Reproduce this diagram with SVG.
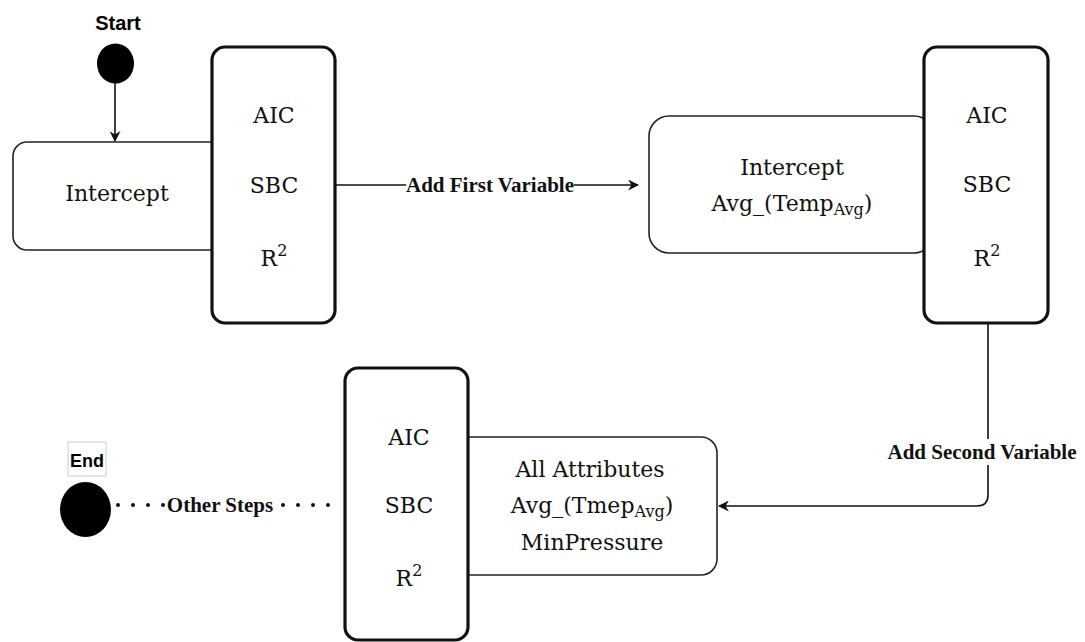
<svg xmlns="http://www.w3.org/2000/svg" width="1085" height="642" viewBox="0 0 1085 642">
  <style>
    .state { fill: #fff; stroke: #222; stroke-width: 1.6; }
    .metric { fill: #fff; stroke: #111; stroke-width: 3.2; }
    .txt { font-family: "DejaVu Serif", "Liberation Serif", serif; font-size: 22px; fill: #111; text-anchor: middle; dominant-baseline: central; }
    .lbl { font-family: "Liberation Serif", "Times New Roman", "DejaVu Serif", serif; font-size: 21px; font-weight: bold; fill: #111; text-anchor: middle; dominant-baseline: central; }
    .term { font-family: "Liberation Sans", Arial, sans-serif; font-weight: bold; fill: #000; text-anchor: middle; dominant-baseline: central; }
    .edge { fill: none; stroke: #111; stroke-width: 1.6; }
    .dots { fill: none; stroke: #111; stroke-width: 4; stroke-linecap: round; stroke-dasharray: 0 15; }
  </style>
  <defs>
    <marker id="arrow" viewBox="0 0 10 10" refX="9" refY="5" markerWidth="11" markerHeight="11" markerUnits="userSpaceOnUse" orient="auto">
      <path d="M0,0 L10,5 L0,10 L3,5 z" fill="#111"/>
    </marker>
  </defs>
  <rect width="1085" height="642" fill="#fff"/>

  <!-- connectors -->
  <g id="connectors">
    <line class="edge" x1="115" y1="83" x2="115" y2="141" marker-end="url(#arrow)"/>
    <line class="edge" x1="336" y1="185" x2="638" y2="185" marker-end="url(#arrow)"/>
    <rect x="406" y="173" width="168" height="24" fill="#fff"/>
    <text class="lbl" x="490" y="185">Add First Variable</text>
    <path class="edge" d="M988,323 L988,495 Q988,506 977,506 L719,506" marker-end="url(#arrow)"/>
    <rect x="885" y="439" width="194" height="26" fill="#fff"/>
    <text class="lbl" x="982" y="452">Add Second Variable</text>
    <line class="dots" x1="118" y1="505" x2="343" y2="505"/>
    <rect x="166" y="493" width="108" height="24" fill="#fff"/>
    <text class="lbl" x="220" y="505" font-size="19">Other Steps</text>
  </g>

  <!-- start -->
  <g id="start">
    <text class="term" x="118" y="23" font-size="20">Start</text>
    <ellipse cx="115.5" cy="63.5" rx="18.5" ry="20" fill="#000"/>
  </g>

  <!-- step 1 -->
  <g id="intercept">
    <rect class="state" x="13" y="142" width="210" height="108" rx="14"/>
    <text class="txt" x="117" y="193">Intercept</text>
  </g>
  <g id="metrics1">
    <rect class="metric" x="212" y="47" width="123" height="276" rx="13"/>
    <text class="txt" x="274" y="115">AIC</text>
    <text class="txt" x="274" y="185">SBC</text>
    <text class="txt" x="274" y="258">R<tspan font-size="16" dy="-8">2</tspan></text>
  </g>

  <!-- step 2 -->
  <g id="intercept-avg">
    <rect class="state" x="649" y="116" width="285" height="137" rx="20"/>
    <text class="txt" x="792" y="167">Intercept</text>
    <text class="txt" x="792" y="203">Avg_(Temp<tspan font-size="16" dy="6">Avg</tspan><tspan dy="-6">)</tspan></text>
  </g>
  <g id="metrics2">
    <rect class="metric" x="924" y="47" width="124" height="276" rx="13"/>
    <text class="txt" x="987" y="115">AIC</text>
    <text class="txt" x="987" y="184">SBC</text>
    <text class="txt" x="987" y="258">R<tspan font-size="16" dy="-8">2</tspan></text>
  </g>

  <!-- step 3 -->
  <g id="all-attributes">
    <rect class="state" x="455" y="437" width="262" height="138" rx="16"/>
    <text class="txt" x="590" y="469">All Attributes</text>
    <text class="txt" x="592" y="505">Avg_(Tmep<tspan font-size="16" dy="6">Avg</tspan><tspan dy="-6">)</tspan></text>
    <text class="txt" x="592" y="542">MinPressure</text>
  </g>
  <g id="metrics3">
    <rect class="metric" x="345" y="368" width="123" height="272" rx="13"/>
    <text class="txt" x="409" y="437">AIC</text>
    <text class="txt" x="409" y="505">SBC</text>
    <text class="txt" x="409" y="578">R<tspan font-size="16" dy="-8">2</tspan></text>
  </g>

  <!-- end -->
  <g id="end">
    <rect x="68" y="442" width="38" height="34" fill="#fff" stroke="#ccc" stroke-width="1"/>
    <text class="term" x="87" y="461" font-size="18">End</text>
    <ellipse cx="85.5" cy="509.5" rx="25.5" ry="27.5" fill="#000"/>
  </g>
</svg>
